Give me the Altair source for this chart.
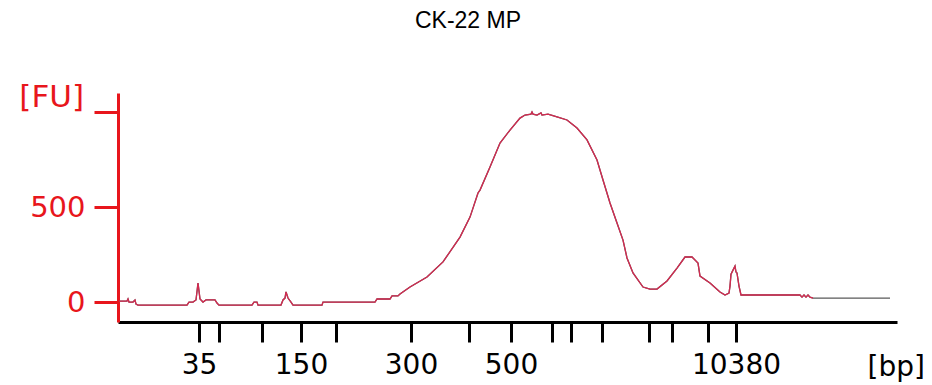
import altair as alt
import pandas as pd

chart_title = "CK-22 MP"

# migration time (s) and fluorescence (FU)
time_s = [20.1, 20.9, 21.0, 21.1, 21.5, 21.7, 21.8, 22.0, 26.9, 27.1, 27.5, 27.8, 28.0, 28.2, 28.5, 28.8,
          29.7, 29.9, 30.1, 33.4, 33.6, 33.9, 34.0, 36.3, 36.5, 36.7, 36.8, 37.0, 37.3, 37.5, 40.4, 40.5,
          45.7, 45.9, 47.2, 47.4, 48.0, 48.2, 49.2, 50.9, 52.5, 54.2, 55.2, 56.0, 56.2, 57.2, 58.2, 59.2,
          60.2, 60.7, 61.3, 61.4, 61.5, 61.9, 62.3, 62.4, 63.0, 63.9, 64.9, 65.9, 66.9, 67.9, 68.5, 69.2,
          69.9, 70.5, 70.9, 71.5, 72.5, 73.2, 73.9, 74.9, 75.9, 76.7, 77.4, 78.0, 78.2, 79.2, 80.2, 80.7,
          81.1, 81.2, 81.3, 81.5, 81.7, 81.8, 81.9, 82.1, 82.3, 88.2, 88.4, 88.6, 88.8, 89.0, 89.2, 89.5,
          97.2]
fu = [5, 5, 16, 0, 0, 11, -11, -16, -16, 0, 0, 11, 100, 16, 0, 11,
      11, -5, -16, -16, 0, 0, -16, -16, 11, 21, 53, 21, 0, -16, -16, 0,
      0, 16, 16, 32, 32, 42, 79, 132, 211, 342, 447, 574, 589, 711, 837, 905,
      968, 984, 989, 1000, 989, 984, 995, 984, 989, 974, 958, 916, 853, 747, 642, 521,
      416, 326, 232, 153, 79, 68, 68, 111, 179, 237, 237, 205, 137, 100, 53, 37,
      47, 84, 147, 168, 189, 158, 153, 84, 37, 37, 26, 37, 26, 37, 26, 21,
      21]

# ladder positions (s) and their bp labels
tick_times = [28.1, 30.1, 34.4, 38.3, 41.8, 49.3, 55.1, 59.3, 63.4, 65.3, 68.4, 73.1, 75.4, 79.0, 81.8]
tick_labels = ["35", "", "", "150", "", "300", "", "500", "", "", "", "", "", "", "10380"]
y_ticks = [0, 500, 1000]
y_labels = ["0", "500", ""]
y_unit = "[FU]"
x_unit = "[bp]"
red_end = 89.5

RED = "#e8161c"
TRACE_RED = "#d42a50"

df = pd.DataFrame({"t": time_s, "fu": fu})

def lookup_expr(values, labels):
    vals = ",".join(str(v) for v in values)
    labs = ",".join("'" + l + "'" for l in labels)
    return f"[{labs}][indexof([{vals}], datum.value)]"

x_enc = alt.X(
    "t:Q",
    scale=alt.Scale(domain=[20, 97.9], nice=False, zero=False),
    axis=alt.Axis(values=tick_times, labelExpr=lookup_expr(tick_times, tick_labels), title=None,
                  grid=False, domainColor="black", domainWidth=3, tickColor="black", tickWidth=3,
                  tickSize=20, labelFont="DejaVu Sans", labelFontSize=28, labelColor="black",
                  labelPadding=9, labelFlush=False, labelOverlap=False),
)
y_enc = alt.Y(
    "fu:Q",
    scale=alt.Scale(domain=[-105, 1100], nice=False, zero=False),
    axis=alt.Axis(values=y_ticks, labelExpr=lookup_expr(y_ticks, y_labels), title=None, grid=False,
                  domainColor=RED, domainWidth=3, tickColor=RED, tickWidth=3, tickSize=24,
                  labelFont="DejaVu Sans", labelFontSize=29, labelColor=RED, labelPadding=9),
)

base = alt.Chart(df)
gray_line = base.mark_line(color="#5a5a5a", strokeWidth=1.3).encode(x=x_enc, y=y_enc)
red_line = base.transform_filter(alt.datum.t <= red_end).mark_line(
    color=TRACE_RED, strokeWidth=1.3).encode(x=x_enc, y=y_enc)

title_txt = alt.Chart(pd.DataFrame({"s": [chart_title]})).mark_text(
    font="Liberation Sans", fontSize=23, color="black", align="center", baseline="middle"
).encode(text="s:N", x=alt.value(350), y=alt.value(-72))

fu_txt = alt.Chart(pd.DataFrame({"s": [y_unit]})).mark_text(
    font="DejaVu Sans", fontSize=31, color=RED, align="right", baseline="middle"
).encode(text="s:N", x=alt.value(-34), y=alt.value(5))

bp_txt = alt.Chart(pd.DataFrame({"s": [x_unit]})).mark_text(
    font="DejaVu Sans", fontSize=28, color="black", align="right", baseline="middle"
).encode(text="s:N", x=alt.value(807), y=alt.value(275))

chart = alt.layer(gray_line, red_line, title_txt, fu_txt, bp_txt).properties(
    width=779, height=229,
    padding={"left": 118, "top": 93, "right": 35, "bottom": 63},
    autosize="none",
    background="white",
).configure_view(stroke=None)

chart.save("out.html", embed_options={"renderer": "svg", "actions": False})
